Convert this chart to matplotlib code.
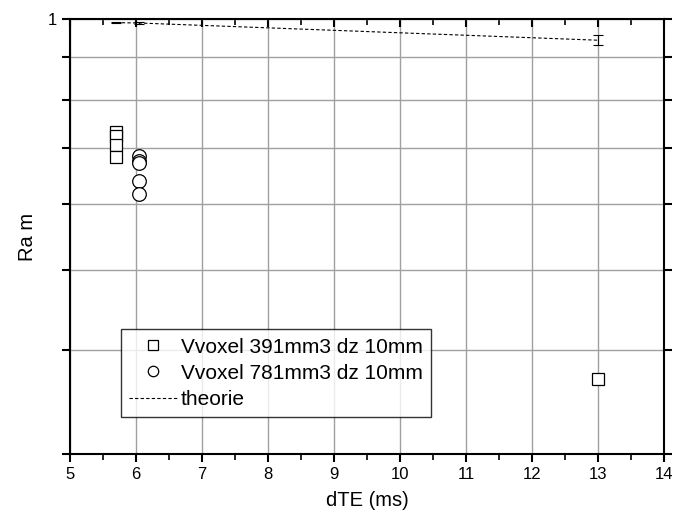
import numpy as np
import matplotlib
matplotlib.use("Agg")
import matplotlib.pyplot as plt
from matplotlib.lines import Line2D
from matplotlib.ticker import FixedLocator, NullLocator, MultipleLocator, FixedFormatter

plt.rcParams['font.family'] = ['Liberation Sans', 'DejaVu Sans']

# measured points
dte_391 = [5.7, 5.7, 5.7, 5.7, 13.0]
ram_391 = [0.731, 0.723, 0.705, 0.682, 0.369]
dte_781 = [6.04, 6.04, 6.04, 6.04, 6.04]
ram_781 = [0.684, 0.676, 0.671, 0.638, 0.617]

# theory curve
dte_th = [5.7, 6.04, 13.0]
ram_th = [0.990, 0.989, 0.943]
err_th = [0.002, 0.002, 0.013]

labels = ["Vvoxel 391mm3 dz 10mm", "Vvoxel 781mm3 dz 10mm", "theorie"]
yticks = [0.3, 0.4, 0.5, 0.6, 0.7, 0.8, 0.9, 1.0]

fig = plt.figure(figsize=(6.74, 5.22), dpi=100)
ax = fig.add_axes([0.104, 0.130, 0.881, 0.8336])

ax.set_yscale("log")
ax.set_xlim(5, 14)
ax.set_ylim(0.3, 1.0)

ax.set_axisbelow(True)
ax.grid(True, which="major", color="#a0a0a0", lw=1.0)

ax.plot(dte_391, ram_391, ls="none", marker="s", ms=9, mfc="white",
        mec="black", mew=0.9, zorder=3)
ax.plot(dte_781, ram_781, ls="none", marker="o", ms=9.8, mfc="white",
        mec="black", mew=0.9, zorder=3)
ax.errorbar(dte_th, ram_th, yerr=err_th, color="black", lw=0.8, ls=(0, (3, 2)),
            capsize=3.5, elinewidth=0.8, capthick=0.8, zorder=4)

ax.xaxis.set_major_locator(MultipleLocator(1))
ax.xaxis.set_minor_locator(MultipleLocator(0.5))
ax.yaxis.set_major_locator(FixedLocator(yticks))
ax.yaxis.set_major_formatter(FixedFormatter([""] * 7 + ["1"]))
ax.yaxis.set_minor_locator(NullLocator())

for s in ax.spines.values():
    s.set_linewidth(1.5)

ax.tick_params(axis="x", which="major", direction="out", length=6, width=1.5,
               labelsize=12, top=True)
ax.tick_params(axis="x", which="minor", direction="out", length=4, width=1.2, top=True)
ax.tick_params(axis="y", which="major", direction="out", length=6, width=1.5,
               labelsize=12, right=True)
# top ticks point inward
for t in ax.xaxis.get_major_ticks() + ax.xaxis.get_minor_ticks():
    t.tick2line.set_marker(matplotlib.lines.TICKDOWN)

ax.set_xlabel("dTE (ms)", fontsize=14.5, labelpad=6)
ax.set_ylabel("Ra m", fontsize=14.5, labelpad=8)

handles = [
    Line2D([], [], ls="none", marker="s", ms=6.5, mfc="white", mec="black", mew=0.9),
    Line2D([], [], ls="none", marker="o", ms=7.5, mfc="white", mec="black", mew=0.9),
    Line2D([], [], color="black", lw=0.8, ls=(0, (3, 2))),
]
leg = ax.legend(handles, labels, loc="lower left", bbox_to_anchor=(0.085, 0.085),
                borderaxespad=0, fontsize=15, frameon=True, fancybox=False,
                edgecolor="black", handlelength=2.3, handletextpad=0.2,
                labelspacing=0.34, borderpad=0.4)
leg.get_frame().set_linewidth(1.0)

fig.savefig("out.png", dpi=100)
